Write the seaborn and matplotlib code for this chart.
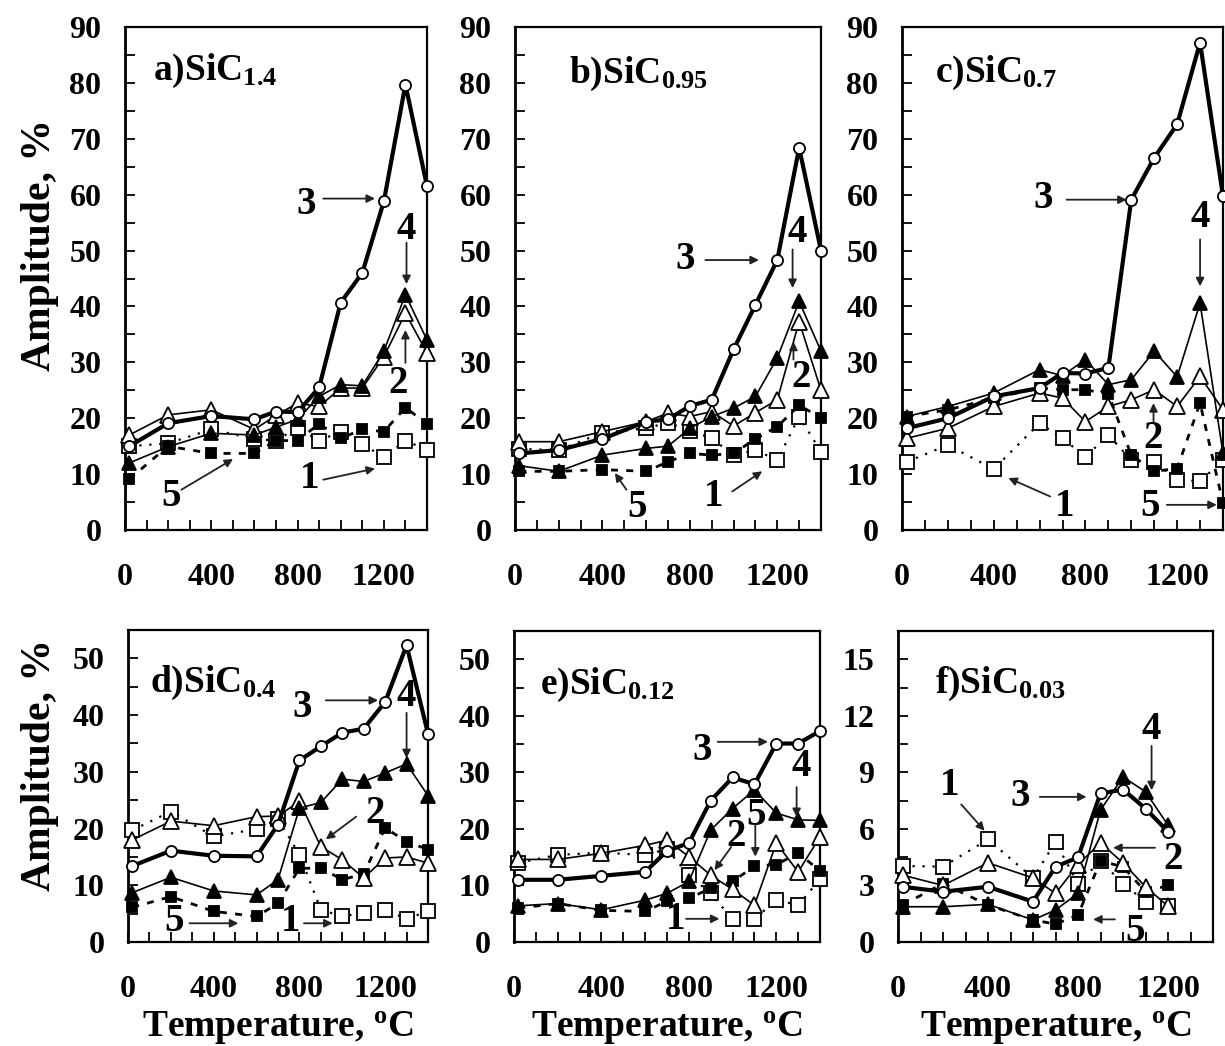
import matplotlib
matplotlib.use('Agg')
import matplotlib.pyplot as plt
import seaborn as sns

sns.set_style('ticks')
plt.rcParams['font.family'] = ['Liberation Serif', 'DejaVu Serif']
plt.rcParams['font.weight'] = 'bold'
plt.rcParams['mathtext.fontset'] = 'custom'
plt.rcParams['mathtext.rm'] = 'Liberation Serif:bold'
plt.rcParams['mathtext.it'] = 'Liberation Serif:bold'
plt.rcParams['mathtext.bf'] = 'Liberation Serif:bold'
for key in ['text.color', 'axes.edgecolor', 'xtick.color', 'ytick.color', 'axes.labelcolor']:
    plt.rcParams[key] = 'black'

# temperatures, C
temps = [20, 200, 400, 600, 700, 800, 900, 1000, 1100, 1200, 1300, 1400]
temps_f = [20, 200, 400, 600, 700, 800, 900, 1000, 1100, 1200]

# a) SiC1.4
a_s1 = [15, 15.5, 18, 16.3, 16, 18.3, 16, 17.6, 15.4, 13, 16, 14.3]
a_s2 = [17, 20.6, 21.5, 18, 20.5, 22.7, 22.1, 25.4, 25.4, 31, 38.8, 31.7]
a_s3 = [15, 19.1, 20.4, 19.8, 21.2, 21.1, 25.5, 40.7, 46, 58.8, 79.7, 61.5]
a_s4 = [12, 14.9, 17.3, 17, 18.4, 19.8, 23.9, 26, 25.8, 32, 42.1, 34]
a_s5 = [9.1, 15, 13.7, 13.7, 16, 16, 19, 16.4, 18, 17.6, 21.9, 19]

# b) SiC0.95
b_s1 = [14.5, 14.3, 17.4, 18.2, 19.2, 17.8, 16.4, 13.4, 14.3, 12.5, 20.3, 14]
b_s2 = [15.8, 15.8, 17.6, 19.4, 20.9, 20.3, 21.2, 18.6, 21, 23.3, 37.3, 25]
b_s3 = [13.7, 14.3, 16.3, 19.4, 19.8, 22.2, 23.3, 32.3, 40.3, 48.3, 68.4, 50]
b_s4 = [11.5, 10.5, 13.4, 14.6, 15, 18.2, 20.3, 21.8, 23.9, 30.8, 40.9, 32]
b_s5 = [10.5, 10.5, 10.8, 10.5, 12.2, 13.7, 13.4, 13.7, 16.3, 18.5, 22.3, 20.1]

# c) SiC0.7
c_s1 = [12.2, 15.2, 10.9, 19.1, 16.4, 13.1, 17, 12.5, 12.2, 9, 8.7, 12.5]
c_s2 = [16.4, 18.2, 22.1, 24.5, 23.6, 19.4, 22.1, 23.3, 25.1, 22.1, 27.5, 21.5]
c_s3 = [18.2, 20, 23.9, 25.4, 28.1, 28, 29, 59.1, 66.6, 72.6, 87.2, 59.7]
c_s4 = [20.3, 22.1, 24.5, 28.7, 27.6, 30.5, 26, 26.9, 32, 27.4, 40.6, 13.7]
c_s5 = [20.3, 21.5, 23.6, 25.4, 25.1, 25.1, 24.3, 13.4, 10.5, 11, 22.7, 4.8]

# d) SiC0.4
d_s1 = [19.7, 23, 18.6, 19.9, 21.7, 15.4, 5.7, 4.5, 5.2, 5.6, 4.1, 5.4]
d_s2 = [18, 21.3, 20.5, 22.1, 22.2, 24.8, 16.8, 14.5, 11.3, 14.8, 15, 13.9]
d_s3 = [13.4, 16.1, 15.2, 15.1, 20.7, 32, 34.5, 36.9, 37.6, 42.3, 52.3, 36.7]
d_s4 = [8.7, 11.4, 9, 8.3, 11, 23.6, 24.6, 28.7, 28.3, 29.8, 31.4, 25.8]
d_s5 = [6.1, 8, 5.4, 4.5, 6.8, 13, 13, 11, 12, 20.1, 17.7, 16.3]

# e) SiC0.12
e_s1 = [14, 15.4, 15.8, 15.4, 16.4, 11.8, 8.6, 4, 4, 7.5, 6.5, 11.1]
e_s2 = [14.6, 14.6, 15.7, 17.1, 18, 15.1, 11.8, 9.3, 6.5, 17.5, 12.4, 18.6]
e_s3 = [11, 11, 11.7, 12.4, 16.1, 17.5, 25, 29.1, 27.9, 35.1, 35.1, 37.3]
e_s4 = [6.4, 6.8, 5.7, 7.4, 8.6, 10.7, 19.8, 23.6, 26.9, 22.8, 21.6, 21.5]
e_s5 = [6, 6.8, 5.6, 5.4, 7.2, 7.7, 9.5, 10.7, 13.4, 13.7, 15.7, 12.6]

# f) SiC0.03
f_s1 = [4.03, 4.0, 5.44, 3.4, 5.3, 3.1, 4.3, 3.1, 2.14, 1.9]
f_s2 = [3.55, 3.0, 4.2, 3.4, 2.58, 4.1, 5.26, 4.2, 2.93, 1.9]
f_s3 = [2.93, 2.67, 2.93, 2.14, 3.99, 4.49, 7.88, 8.09, 7.08, 5.85]
f_s4 = [1.87, 1.87, 2.0, 1.17, 1.7, 2.58, 7.0, 8.76, 7.97, 6.2]
f_s5 = [1.96, 3.1, 1.96, 1.17, 0.95, 1.43, 4.3, 3.99, 2.67, 3.0]

W, H = 1225, 1046
fig = plt.figure(figsize=(W / 100, H / 100), dpi=100)


def px_axes(l, t, r, b):
    return fig.add_axes([l / W, 1 - b / H, (r - l) / W, (b - t) / H])


# line style per curve number
styles = {
    1: dict(marker='s', markersize=10.5, markerfacecolor='white', linestyle=(0, (1, 3.5)), linewidth=1.6, zorder=3),
    5: dict(marker='s', markersize=7, markerfacecolor='black', linestyle=(0, (2.5, 3)), linewidth=2.0, zorder=3),
    2: dict(marker='^', markersize=11.5, markerfacecolor='white', linestyle='-', linewidth=1.2, zorder=4),
    4: dict(marker='^', markersize=9.5, markerfacecolor='black', linestyle='-', linewidth=1.2, zorder=5),
    3: dict(marker='o', markersize=8, markerfacecolor='white', linestyle='-', linewidth=3.0, zorder=6),
}

panels = [
    ('a)SiC$_{1.4}$', (125, 27, 427, 530), temps, [a_s1, a_s5, a_s2, a_s4, a_s3], 90, 5, 10, (0.093, 0.895)),
    ('b)SiC$_{0.95}$', (515, 27, 821, 530), temps, [b_s1, b_s5, b_s2, b_s4, b_s3], 90, 5, 10, (0.176, 0.889)),
    ('c)SiC$_{0.7}$', (902, 27, 1223, 530), temps, [c_s1, c_s5, c_s2, c_s4, c_s3], 90, 5, 10, (0.103, 0.891)),
    ('d)SiC$_{0.4}$', (128, 630, 428, 942), temps, [d_s1, d_s5, d_s2, d_s4, d_s3], 55, 5, 10, (0.073, 0.802)),
    ('e)SiC$_{0.12}$', (514, 631, 820, 942), temps, [e_s1, e_s5, e_s2, e_s4, e_s3], 55, 5, 10, (0.085, 0.797)),
    ('f)SiC$_{0.03}$', (898, 631, 1213, 942), temps_f, [f_s1, f_s5, f_s2, f_s4, f_s3], 16.5, 1.5, 3, (0.117, 0.802)),
]

axes = []
for title, box, xs, series, ymax, ystep, ylab_step, tpos in panels:
    ax = px_axes(*box)
    for num, ys in zip([1, 5, 2, 4, 3], series):
        st = styles[num]
        sns.lineplot(x=xs, y=ys, ax=ax, color='black', markeredgecolor='black',
                     markeredgewidth=1.3, clip_on=False, **st)
    ax.set_xlim(0, 1400)
    ax.set_ylim(0, ymax)
    xt = list(range(0, 1401, 100))
    ax.set_xticks(xt)
    ax.set_xticklabels([str(v) if v in (0, 400, 800, 1200) else '' for v in xt])
    n = int(round(ymax / ystep))
    yt = [round(i * ystep, 2) for i in range(n + 1)]
    if ymax == 55:
        yt = yt[:-1]
    ax.set_yticks(yt)
    ax.set_yticklabels([('%g' % v) if abs(v / ylab_step - round(v / ylab_step)) < 1e-6 else '' for v in yt])
    ax.tick_params(axis='both', direction='in', length=7, width=1.3, labelsize=23)
    ax.tick_params(axis='x', pad=24)
    ax.tick_params(axis='y', pad=17)
    for sp in ax.spines.values():
        sp.set_linewidth(1.6)
        sp.set_visible(True)
    ax.spines['left'].set_linewidth(2.0)
    ax.set_xlabel('')
    ax.set_ylabel('')
    ax.text(tpos[0], tpos[1], title, transform=ax.transAxes, fontsize=27,
            fontweight='bold', ha='left', va='baseline')
    axes.append(ax)

arrow_kw = dict(arrowstyle='-|>', color='#222222', lw=1.3, mutation_scale=12,
                shrinkA=0, shrinkB=0)


def mark(ax, s, txt, start, end):
    ax.text(txt[0], txt[1], s, fontsize=28, fontweight='bold', ha='center', va='center', zorder=10)
    ax.annotate('', xy=end, xytext=start, arrowprops=arrow_kw, zorder=10)


a, b, c, d, e, f = axes
mark(a, '3', (841, 58.2), (919, 59.3), (1159, 59.3))
mark(a, '4', (1305, 53.8), (1305, 51.4), (1305, 44.0))
mark(a, '2', (1267, 26.3), (1300, 29.9), (1300, 35.8))
mark(a, '1', (857, 9.3), (919, 9.0), (1159, 11.0))
mark(a, '5', (215, 6.0), (261, 7.2), (501, 12.7))

mark(b, '3', (779, 48.4), (871, 48.3), (1116, 48.3))
mark(b, '4', (1292, 53.2), (1270, 50.2), (1270, 43.3))
mark(b, '2', (1308, 27.2), (1274, 30.5), (1274, 33.7))
mark(b, '5', (557, 4.1), (510, 7.2), (457, 10.2))
mark(b, '1', (909, 6.0), (994, 6.9), (1131, 10.5))

mark(c, '3', (617, 59.4), (718, 59.1), (980, 59.1))
mark(c, '4', (1300, 55.9), (1300, 52.0), (1300, 43.6))
mark(c, '2', (1097, 16.4), (1097, 19.4), (1097, 22.7))
mark(c, '1', (711, 4.2), (646, 6.0), (464, 9.3))
mark(c, '5', (1082, 4.2), (1155, 4.5), (1373, 4.5))

mark(d, '3', (813, 41.3), (923, 42.6), (1167, 42.6))
mark(d, '4', (1300, 43.3), (1300, 40.4), (1300, 32.4))
mark(d, '2', (1151, 22.7), (1065, 22.1), (923, 18.1))
mark(d, '5', (217, 3.6), (287, 3.3), (515, 3.3))
mark(d, '1', (758, 3.6), (821, 3.3), (955, 3.3))

mark(e, '3', (863, 33.9), (932, 35.4), (1162, 35.4))
mark(e, '4', (1316, 31.0), (1293, 27.4), (1293, 22.1))
mark(e, '5', (1108, 22.4), (1104, 20.7), (1104, 15.1))
mark(e, '2', (1017, 18.6), (994, 16.8), (917, 12.7))
mark(e, '1', (741, 3.9), (787, 4.1), (940, 4.1))

mark(f, '1', (229, 8.3), (281, 7.3), (385, 5.9))
mark(f, '3', (541, 7.7), (630, 7.7), (838, 7.7))
mark(f, '4', (1127, 11.3), (1127, 10.4), (1127, 8.05))
mark(f, '2', (1223, 4.4), (1142, 5.0), (956, 5.0))
mark(f, '5', (1053, 0.55), (964, 1.2), (867, 1.2))

# axis titles
for yc in (245, 765):
    fig.text(40 / W, 1 - yc / H, 'Amplitude, %', rotation=90, fontsize=30,
             fontweight='bold', ha='center', va='center')
for xc in (278, 667, 1056):
    fig.text(xc / W, 1 - 1028 / H, 'Temperature, $^{\\mathrm{o}}$C', fontsize=27,
             fontweight='bold', ha='center', va='center')

fig.savefig('out.png', dpi=100)
